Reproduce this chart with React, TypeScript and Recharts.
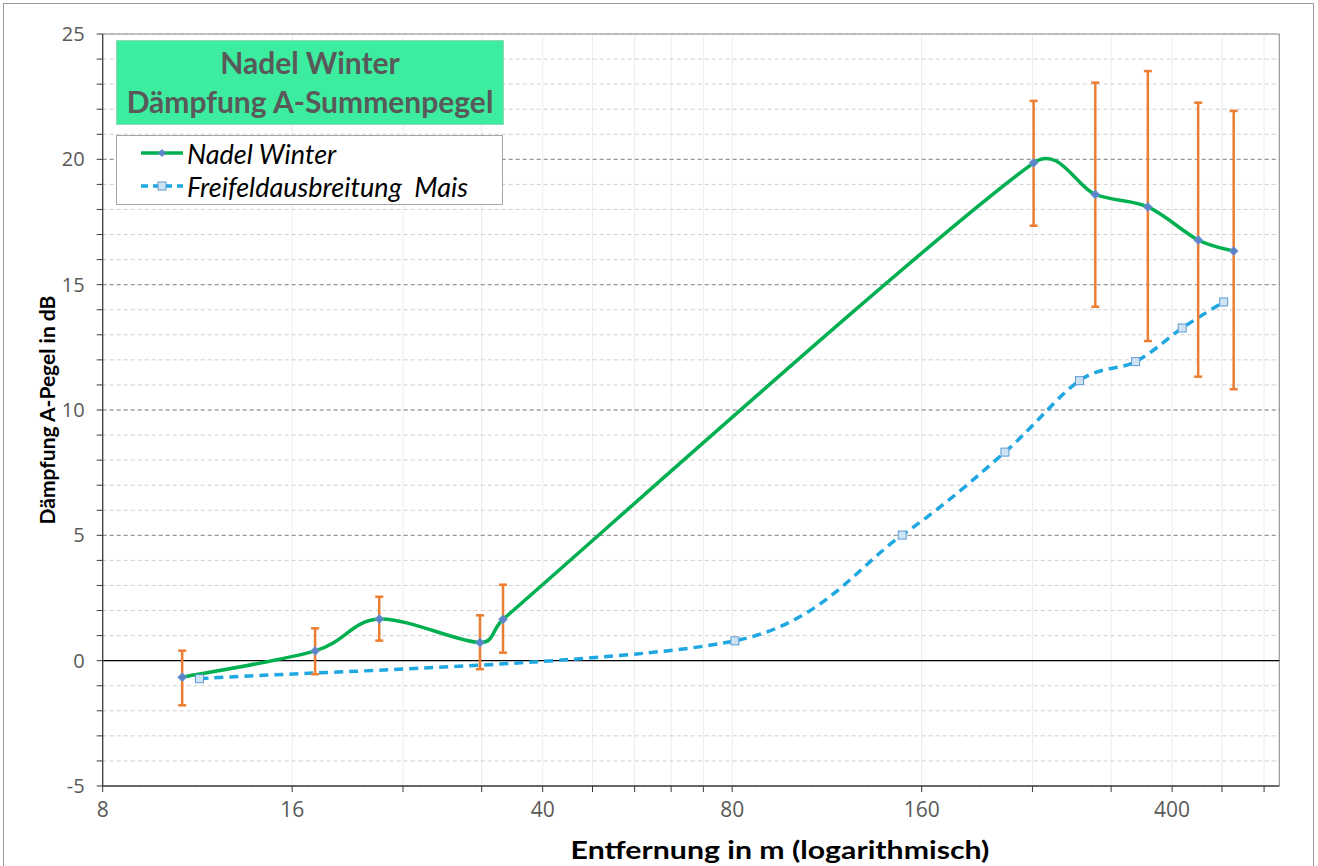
import {
  CartesianGrid,
  ErrorBar,
  Legend,
  Line,
  LineChart,
  ReferenceLine,
  XAxis,
  YAxis,
} from "recharts";

// Nadel Winter: Entfernung (m), Dämpfung (dB), Fehlerbalken unten/oben
const nadelDist = [10.7, 17.4, 22.0, 31.8, 34.6, 241, 302, 366, 440, 501];
const nadelDamp = [-0.66, 0.39, 1.66, 0.72, 1.65, 19.86, 18.6, 18.1, 16.78, 16.34];
const nadelLow = [-1.78, -0.54, 0.8, -0.34, 0.32, 17.35, 14.12, 12.75, 11.33, 10.83];
const nadelHigh = [0.4, 1.29, 2.55, 1.81, 3.03, 22.33, 23.06, 23.52, 22.26, 21.93];

// Freifeldausbreitung Mais
const maisDist = [11.4, 80.8, 149, 217, 285, 350, 415, 483];
const maisDamp = [-0.72, 0.79, 5.01, 8.32, 11.17, 11.93, 13.27, 14.31];

const xTicks = [8, 16, 24, 32, 40, 48, 56, 64, 72, 80, 160, 240, 320, 400, 480, 560];
const xLabels = [8, 16, 40, 80, 160, 400];
const xDomain = [8, 592];
const yTicks = [-5, -4, -3, -2, -1, 0, 1, 2, 3, 4, 5, 6, 7, 8, 9, 10, 11, 12, 13, 14, 15, 16, 17, 18, 19, 20, 21, 22, 23, 24, 25];
const yMajor = [5, 10, 15, 20];

const nadelData = nadelDist.map((d, i) => ({
  dist: d,
  damp: nadelDamp[i],
  err: [nadelDamp[i] - nadelLow[i], nadelHigh[i] - nadelDamp[i]],
}));
const maisData = maisDist.map((d, i) => ({ dist: d, damp: maisDamp[i] }));

const FONT = "'Open Sans', sans-serif";
const GREEN = "#00b050";
const BLUE = "#1ea7e1";

// Glättung ähnlich Excel: Catmull-Rom (1/6), Tangenten auf Segmentlänge begrenzt
function excelSmooth(context: any) {
  let pts: number[][] = [];
  const f = 1 / 6;
  const k = 0.45;
  return {
    areaStart() {},
    areaEnd() {},
    lineStart() {
      pts = [];
    },
    point(x: number, y: number) {
      pts.push([+x, +y]);
    },
    lineEnd() {
      const n = pts.length;
      if (!n) return;
      const cin: number[][] = [];
      const cout: number[][] = [];
      for (let i = 0; i < n; i++) {
        const p0 = pts[i - 1] || pts[i];
        const p1 = pts[i];
        const p2 = pts[i + 1] || pts[i];
        const tx = (p2[0] - p0[0]) * f;
        const ty = (p2[1] - p0[1]) * f;
        const tl = Math.hypot(tx, ty) || 1;
        const d01 = Math.hypot(p1[0] - p0[0], p1[1] - p0[1]);
        const d12 = Math.hypot(p2[0] - p1[0], p2[1] - p1[1]);
        const si = Math.min(1, (k * d01) / tl);
        const so = Math.min(1, (k * d12) / tl);
        cin[i] = [p1[0] - tx * si, p1[1] - ty * si];
        cout[i] = [p1[0] + tx * so, p1[1] + ty * so];
      }
      context.moveTo(pts[0][0], pts[0][1]);
      for (let i = 0; i < n - 1; i++) {
        context.bezierCurveTo(cout[i][0], cout[i][1], cin[i + 1][0], cin[i + 1][1], pts[i + 1][0], pts[i + 1][1]);
      }
    },
  };
}

const Diamond = (props: any) => {
  const { cx, cy, index } = props;
  if (cx == null || cy == null) return <g key={index} />;
  const r = 4.5;
  return (
    <path
      key={index}
      d={`M${cx},${cy - r}L${cx + r},${cy}L${cx},${cy + r}L${cx - r},${cy}Z`}
      fill="#5b84c9"
      stroke="#7a9ad6"
      strokeWidth={0.8}
    />
  );
};

const Square = (props: any) => {
  const { cx, cy, index } = props;
  if (cx == null || cy == null) return <g key={index} />;
  return (
    <rect
      key={index}
      x={cx - 4}
      y={cy - 4}
      width={8}
      height={8}
      fill="#cfe3f3"
      stroke="#5b9bd5"
      strokeWidth={1}
    />
  );
};

function LegendBox() {
  return (
    <div
      style={{
        width: 387,
        height: 70,
        border: "1px solid #a6a6a6",
        background: "#fff",
        fontFamily: "Lato, sans-serif",
        fontStyle: "italic",
        fontSize: 27,
        color: "#000",
        boxSizing: "border-box",
        paddingTop: 1,
      }}
    >
      <div style={{ display: "flex", alignItems: "center", height: 32 }}>
        <svg width={48} height={12} style={{ marginLeft: 22 }}>
          <line x1={2} y1={6} x2={44} y2={6} stroke={GREEN} strokeWidth={3.5} />
          <path d="M23,2L27,6L23,10L19,6Z" fill="#5b84c9" />
        </svg>
        <span>Nadel Winter</span>
      </div>
      <div style={{ display: "flex", alignItems: "center", height: 34 }}>
        <svg width={48} height={12} style={{ marginLeft: 22 }}>
          <line x1={2} y1={6} x2={44} y2={6} stroke={BLUE} strokeWidth={3.5} strokeDasharray="7 5" />
          <rect x={19} y={2} width={8} height={8} fill="#cfe3f3" stroke="#5b9bd5" />
        </svg>
        <span style={{ whiteSpace: "pre" }}>Freifeldausbreitung  Mais</span>
      </div>
    </div>
  );
}

export default function App() {
  return (
    <div
      style={{
        position: "absolute",
        left: 0,
        top: 0,
        width: 1318,
        height: 866,
        background: "#fff",
        overflow: "hidden",
      }}
    >
      <div
        style={{
          position: "absolute",
          left: 3,
          top: 3,
          width: 1309,
          height: 880,
          border: "1px solid #9a9a9a",
        }}
      />
      <LineChart
        width={1318}
        height={866}
        margin={{ top: 34, right: 38.7, bottom: 40, left: 42.7 }}
        style={{ position: "absolute", left: 0, top: 0 }}
      >
        <CartesianGrid horizontal={false} vertical stroke="#ececec" />
        <CartesianGrid horizontal vertical={false} stroke="#cfcfcf" strokeDasharray="4 3" />
        <XAxis
          dataKey="dist"
          type="number"
          scale="log"
          domain={xDomain}
          ticks={xTicks}
          interval={0}
          height={40}
          allowDataOverflow
          tickFormatter={(v) => (xLabels.includes(v) ? String(v) : "")}
          axisLine={{ stroke: "#3a3a3a", strokeWidth: 1.3 }}
          tickLine={{ stroke: "#3a3a3a" }}
          tickSize={6}
          tickMargin={10}
          tick={{ fill: "#595959", fontSize: 21, fontFamily: FONT }}
        />
        <YAxis
          type="number"
          domain={[-5, 25]}
          ticks={yTicks}
          interval={0}
          width={60}
          tickFormatter={(v) => (v % 5 === 0 ? String(v) : "")}
          axisLine={{ stroke: "#3a3a3a", strokeWidth: 1.3 }}
          tickLine={{ stroke: "#3a3a3a" }}
          tickSize={6}
          tickMargin={12}
          tick={{ fill: "#595959", fontSize: 20, fontFamily: FONT }}
        />
        {yMajor.map((v) => (
          <ReferenceLine key={v} y={v} stroke="#8c8c8c" strokeDasharray="4 3" />
        ))}
        <ReferenceLine y={25} stroke="#8c8c8c" />
        <ReferenceLine x={xDomain[1]} stroke="#8c8c8c" />
        <ReferenceLine y={0} stroke="#000" strokeWidth={1.3} />
        <Legend
          layout="vertical"
          align="center"
          verticalAlign="middle"
          wrapperStyle={{ position: "absolute", left: 116, top: 135, width: 387, height: 70 }}
          content={() => <LegendBox />}
        />
        <Line
          data={maisData}
          dataKey="damp"
          name="Freifeldausbreitung  Mais"
          type={excelSmooth as any}
          stroke={BLUE}
          strokeWidth={3.5}
          strokeDasharray="9 6"
          dot={Square}
          activeDot={false}
          isAnimationActive={false}
        />
        <Line
          data={nadelData}
          dataKey="damp"
          name="Nadel Winter"
          type={excelSmooth as any}
          stroke={GREEN}
          strokeWidth={3.5}
          dot={Diamond}
          activeDot={false}
          isAnimationActive={false}
        >
          <ErrorBar dataKey="err" direction="y" width={4} stroke="#ed7d31" strokeWidth={2.5} />
        </Line>
      </LineChart>
      <div
        style={{
          position: "absolute",
          left: 116,
          top: 40,
          width: 388,
          height: 85,
          background: "#3cec9f",
          border: "1px solid #8fd9b5",
          boxSizing: "border-box",
          color: "#595959",
          fontFamily: "Lato, sans-serif",
          fontWeight: 700,
          fontSize: 30,
          lineHeight: "39px",
          textAlign: "center",
          paddingTop: 2,
          whiteSpace: "nowrap",
        }}
      >
        Nadel Winter
        <br />
        Dämpfung A-Summenpegel
      </div>
      <div
        style={{
          position: "absolute",
          left: 46,
          top: 410,
          transform: "translate(-50%, -50%) rotate(-90deg)",
          whiteSpace: "nowrap",
          fontFamily: "Lato, sans-serif",
          fontWeight: 700,
          fontSize: 21,
          color: "#000",
        }}
      >
        Dämpfung A-Pegel in dB
      </div>
      <div
        style={{
          position: "absolute",
          left: 780,
          top: 850,
          transform: "translate(-50%, -50%) scaleX(1.26)",
          whiteSpace: "nowrap",
          fontFamily: "Lato, sans-serif",
          fontWeight: 700,
          fontSize: 24,
          lineHeight: "26px",
          color: "#000",
        }}
      >
        Entfernung in m (logarithmisch)
      </div>
    </div>
  );
}
